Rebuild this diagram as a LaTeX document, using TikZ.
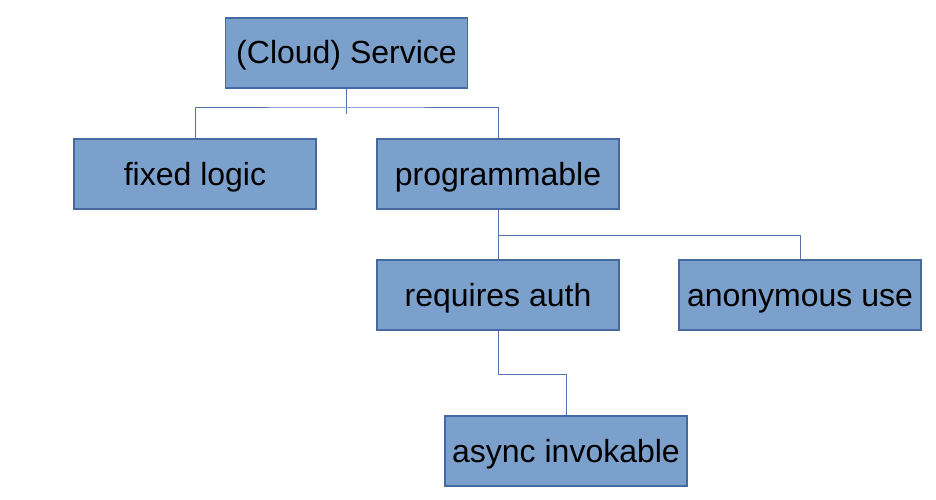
\documentclass[tikz,border=0pt]{standalone}
\usepackage{fontspec}
\setmainfont{Liberation Sans}
\definecolor{boxfill}{RGB}{124,160,204}
\definecolor{boxline}{RGB}{70,106,160}
\definecolor{conn}{RGB}{84,116,170}
\begin{document}
\begin{tikzpicture}[x=1pt,y=-1pt,
  box/.style={draw=boxline,fill=boxfill,line width=1.2pt,minimum width=242pt,minimum height=70pt,inner sep=0pt,text height=26pt,text depth=4pt,font=\fontsize{32}{38}\selectfont,text=black},
  link/.style={draw=conn,line width=1pt}]
\useasboundingbox (0,0) rectangle (936,500);
\node[box] (svc) at (346.5,53) {(Cloud) Service};
\node[box] (fixed) at (195,174) {fixed logic};
\node[box] (prog) at (498,174) {programmable};
\node[box] (auth) at (498,295) {requires auth};
\node[box] (anon) at (800,295) {anonymous use};
\node[box] (async) at (566,451) {async invokable};
\coordinate (stub) at (346.5,114);
\coordinate (bar) at (346.5,108);
\coordinate (bar2) at (566,374);
\draw[link] (svc.south) -- (stub);
\draw[link] (fixed.north) |- (bar) -| (prog.north);
\draw[link] (prog.south) -- (auth.north);
\draw[link] (prog.south) ++(0,26) -| (anon.north);
\draw[link] (auth.south) |- (bar2) -- (async.north);
\end{tikzpicture}
\end{document}
